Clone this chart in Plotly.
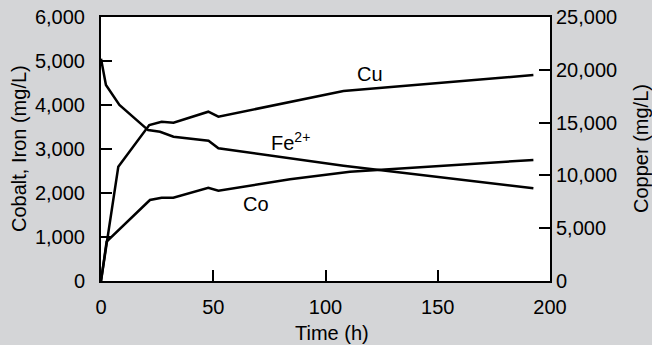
import plotly.graph_objects as go

time_fe = [0, 2.2, 8.2, 21, 26.3, 32.3, 47.9, 52.3, 108, 192.6]
iron = [5050, 4455, 4000, 3430, 3390, 3280, 3190, 3015, 2620, 2107]

time_co = [0, 2.5, 21.8, 27, 32.2, 47.8, 52.3, 84.2, 110.9, 192.6]
cobalt = [0, 893, 1841, 1893, 1893, 2121, 2053, 2311, 2485, 2750]

time_cu = [0, 7.7, 21.5, 27, 32.3, 47.8, 52.3, 84.2, 108, 192.6]
copper = [0, 10824, 14773, 15085, 14990, 16032, 15558, 16979, 17992, 19508]

xticks = [0, 50, 100, 150, 200]
yticks_left = [0, 1000, 2000, 3000, 4000, 5000, 6000]
yticks_right = [0, 5000, 10000, 15000, 20000, 25000]

line = dict(color="black", width=2.5)
fig = go.Figure()
fig.add_trace(go.Scatter(x=time_fe, y=iron, mode="lines", line=line, name="Fe2+"))
fig.add_trace(go.Scatter(x=time_co, y=cobalt, mode="lines", line=line, name="Co"))
fig.add_trace(go.Scatter(x=time_cu, y=copper, mode="lines", line=line, name="Cu", yaxis="y2"))

font = dict(family="Liberation Sans, Arial, sans-serif", size=20, color="black")
axis_common = dict(showgrid=False, zeroline=False, showline=True, linecolor="black",
                   linewidth=2, ticks="inside", ticklen=11, tickwidth=1.5, tickcolor="black",
                   tickfont=font, automargin=False)

fig.update_layout(
    width=652, height=345,
    paper_bgcolor="#d4d5d7", plot_bgcolor="white",
    margin=dict(l=101, r=102, t=17, b=64),
    showlegend=False,
    font=font,
    xaxis=dict(range=[0, 200], tickvals=xticks, ticktext=[str(v) for v in xticks],
               mirror=True, ticklabelstandoff=7, **axis_common),
    yaxis=dict(range=[0, 6000], tickvals=yticks_left,
               ticktext=[f"{v:,}" for v in yticks_left], ticklabelstandoff=10, **axis_common),
    yaxis2=dict(range=[0, 25000], tickvals=yticks_right, overlaying="y", side="right",
                ticktext=[f"{v:,}" for v in yticks_right], ticklabelstandoff=0, **axis_common),
    annotations=[
        dict(x=119.8, y=4705, xref="x", yref="y", text="Cu", showarrow=False, font=font),
        dict(x=84.2, y=3180, xref="x", yref="y", text="Fe<sup>2+</sup>", showarrow=False, font=font),
        dict(x=69, y=1761, xref="x", yref="y", text="Co", showarrow=False, font=font),
        dict(x=0.5, y=0, xref="paper", yref="paper", xshift=6, yshift=-52,
             xanchor="center", yanchor="middle",
             text="Time (h)", showarrow=False, font=font),
        dict(x=0, y=0.5, xref="paper", yref="paper", xshift=-82, textangle=-90,
             xanchor="center", yanchor="middle",
             text="Cobalt, Iron (mg/L)", showarrow=False, font=font),
        dict(x=1, y=0.5, xref="paper", yref="paper", xshift=91, textangle=-90,
             xanchor="center", yanchor="middle",
             text="Copper (mg/L)", showarrow=False, font=font),
    ],
)

fig.write_html("out.html", config={"displayModeBar": False},
               post_script="document.body.style.margin='0';document.body.style.background='#d4d5d7';")
